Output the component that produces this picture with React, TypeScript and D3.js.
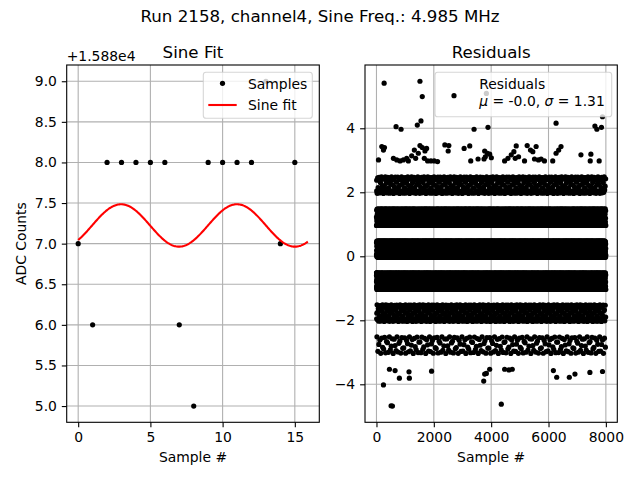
import { useRef, useEffect } from 'react';
import * as d3 from 'd3';

// ADC samples shown in the left panel (value + 1.588e4)
const sampleIdx = [0, 1, 2, 3, 4, 5, 6, 7, 8, 9, 10, 11, 12, 13, 14, 15];
const sampleAdc = [7, 6, 8, 8, 8, 8, 8, 6, 5, 8, 8, 8, 8, 9, 7, 8];

// sine fit
const sampleRateMHz = 40;
const sineFreqMHz = 4.985;
const fitOffset = 7.224;
const fitAmplitude = 0.261;
const fitPeakAt = 2.97;
const fitEnd = 15.9;

// residuals: 8000 samples, dense bands given as counts per ADC level
const nResiduals = 8000;
const bandBaseAdc = 7;
const bandLevels = [-3, -2, -1, 0, 1, 2];
const bandCounts = [240, 550, 2350, 2600, 1666, 480];

// sparse residuals read point by point
const sparseSample = [
  71, 186, 279, 244, 591, 707, 823, 939, 1054, 1112, 1228, 1321, 1367, 1460, 1517, 1598, 1691, 1749,
  1668, 1784, 1899, 2015, 2131, 2385, 2524, 2501, 3057, 3253, 3288, 3543, 3774, 3867, 3948, 3797,
  4006, 3751, 4469, 4585, 4700, 4793, 4874, 4839, 4955, 5163, 5256, 5372, 5453, 5568, 5511, 5649,
  5742, 5858, 6147, 6263, 6355, 6436, 7131, 7478, 7455, 7767,
  267, 1517, 1597, 3833, 7882, 684, 858, 1424, 1552, 3403, 3889, 6264, 7618, 7687, 7847,
  452, 649, 244, 510, 557, 800, 1135, 1147, 1922, 3740, 3774, 3832, 3948, 4353, 4469, 4619, 4735,
  6170, 6286, 6726, 6922, 7443, 7883,
];
const sparseResid = [
  3.01, 3.43, 3.4, 3.32, 3.06, 3.01, 2.98, 3.01, 3.06, 2.98, 3.14, 3.32, 3.06, 3.22, 3.46, 3.4, 3.29, 3.37,
  3.06, 2.98, 2.98, 2.98, 2.96, 3.48, 3.46, 3.29, 3.37, 3.45, 2.98, 3.04, 3.29, 3.22, 3.19, 3.11,
  3.08, 3.04, 2.98, 3.06, 3.17, 3.27, 3.45, 3.06, 3.11, 2.98, 3.46, 3.32, 3.27, 3.43, 3.04, 3.01,
  3.04, 2.98, 2.98, 3.22, 3.32, 3.43, 3.17, 3.19, 2.98, 2.98,
  5.41, 5.47, 4.99, 5.09, 4.36, 4.05, 3.97, 4.1, 4.23, 3.97, 4.03, 4.16, 4.07, 3.97, 4.03,
  -3.53, -3.57, -4.02, -4.67, -4.68, -3.81, -3.61, -3.81, -3.59, -3.9, -3.68, -3.66, -3.53, -4.62, -3.53, -3.55, -3.53,
  -3.57, -3.78, -3.78, -3.68, -3.63, -3.6,
];

const leftTicksX = [0, 5, 10, 15];
const leftTicksY = [5, 5.5, 6, 6.5, 7, 7.5, 8, 8.5, 9];
const rightTicksX = [0, 2000, 4000, 6000, 8000];
const rightTicksY = [-4, -2, 0, 2, 4];

const fs = 13.9;
const tick = 4.9;

function fit(x: number) {
  return fitOffset + fitAmplitude * Math.cos((2 * Math.PI * (x - fitPeakAt) * sineFreqMHz) / sampleRateMHz);
}

function pad(ext: [number, number]): [number, number] {
  const m = (ext[1] - ext[0]) * 0.05;
  return [ext[0] - m, ext[1] + m];
}

type Box = { left: number; right: number; top: number; bottom: number };

function grid(svg: any, box: Box, x: any, y: any, xt: number[], yt: number[]) {
  const g = svg.append('g').attr('stroke', '#b0b0b0').attr('stroke-width', 1.1);
  xt.forEach((d) => {
    g.append('line').attr('x1', x(d)).attr('x2', x(d)).attr('y1', box.top).attr('y2', box.bottom);
  });
  yt.forEach((d) => {
    g.append('line').attr('x1', box.left).attr('x2', box.right).attr('y1', y(d)).attr('y2', y(d));
  });
}

function axes(svg: any, box: Box, x: any, y: any, xt: number[], yt: number[], xf: any, yf: any) {
  const ax = svg.append('g')
    .attr('transform', `translate(0,${box.bottom})`)
    .call(d3.axisBottom(x).tickValues(xt).tickFormat(xf).tickSize(tick).tickPadding(tick).tickSizeOuter(0));
  const ay = svg.append('g')
    .attr('transform', `translate(${box.left},0)`)
    .call(d3.axisLeft(y).tickValues(yt).tickFormat(yf).tickSize(tick).tickPadding(tick).tickSizeOuter(0));
  [ax, ay].forEach((a) => {
    a.select('.domain').remove();
    a.attr('font-family', 'DejaVu Sans').attr('font-size', fs);
    a.selectAll('line').attr('stroke-width', 1.1);
  });
  svg.append('rect')
    .attr('x', box.left).attr('y', box.top)
    .attr('width', box.right - box.left).attr('height', box.bottom - box.top)
    .attr('fill', 'none').attr('stroke', 'black').attr('stroke-width', 1.1);
}

export default function App() {
  const ref = useRef<SVGSVGElement>(null);

  useEffect(() => {
    if (!ref.current) return;
    const svg = d3.select(ref.current);
    svg.selectAll('*').remove();

    svg.append('rect').attr('width', 640).attr('height', 480).attr('fill', 'white');

    // ---------- left: sine fit ----------
    const lb: Box = { left: 66.7, right: 319.3, top: 65, bottom: 422.3 };
    const fitX = d3.range(0, fitEnd + 1e-9, 0.05);
    const xl = d3.scaleLinear().domain(pad([0, fitEnd])).range([lb.left, lb.right]);
    const yl = d3.scaleLinear().domain(pad(d3.extent(sampleAdc) as [number, number])).range([lb.bottom, lb.top]);

    grid(svg, lb, xl, yl, leftTicksX, leftTicksY);

    svg.append('g').selectAll('circle')
      .data(sampleIdx)
      .join('circle')
      .attr('cx', (d) => xl(d))
      .attr('cy', (d, i) => yl(sampleAdc[i]))
      .attr('r', 2.6)
      .attr('fill', 'black');

    svg.append('path')
      .datum(fitX)
      .attr('d', d3.line<number>().x((d) => xl(d)).y((d) => yl(fit(d))))
      .attr('fill', 'none')
      .attr('stroke', 'red')
      .attr('stroke-width', 2.1);

    axes(svg, lb, xl, yl, leftTicksX, leftTicksY, d3.format('d'), d3.format('.1f'));

    // legend
    const lg = svg.append('g');
    lg.append('rect').attr('x', 203.3).attr('y', 72.3).attr('width', 109).attr('height', 46).attr('rx', 2.8)
      .attr('fill', 'white').attr('fill-opacity', 0.8).attr('stroke', '#cccccc').attr('stroke-opacity', 0.8).attr('stroke-width', 1.1);
    lg.append('circle').attr('cx', 222.5).attr('cy', 83.3).attr('r', 2.6).attr('fill', 'black');
    lg.append('line').attr('x1', 208.3).attr('x2', 236.7).attr('y1', 105).attr('y2', 105).attr('stroke', 'red').attr('stroke-width', 2.1);
    lg.append('text').attr('x', 248).attr('y', 88.5).attr('font-size', fs).text('Samples');
    lg.append('text').attr('x', 248).attr('y', 109.8).attr('font-size', fs).text('Sine fit');

    svg.append('text').attr('x', (lb.left + lb.right) / 2).attr('y', 58.2).attr('text-anchor', 'middle').attr('font-size', 16.67).text('Sine Fit');
    svg.append('text').attr('x', lb.left).attr('y', 60.5).attr('font-size', fs).text('+1.588e4');
    svg.append('text').attr('x', (lb.left + lb.right) / 2).attr('y', 462).attr('text-anchor', 'middle').attr('font-size', fs).text('Sample #');
    svg.append('text').attr('transform', `translate(25.8,${(lb.top + lb.bottom) / 2}) rotate(-90)`)
      .attr('text-anchor', 'middle').attr('font-size', fs).text('ADC Counts');

    // ---------- right: residuals ----------
    // residual = fit - ADC; within a level band the offset follows the fit's phase
    const rb: Box = { left: 365, right: 617.3, top: 65, bottom: 422.3 };
    const golden = 0.6180339887;
    const pts: [number, number][] = [];
    sampleIdx.forEach((s, i) => pts.push([s, fit(s) - sampleAdc[i]]));
    bandLevels.forEach((level, b) => {
      const n = bandCounts[b];
      for (let j = 0; j < n; j++) {
        const s = ((j + 0.5) * nResiduals) / n;
        const phase = (j * golden + b * 0.37) % 1;
        const r = level + fitOffset - bandBaseAdc + fitAmplitude * Math.cos(2 * Math.PI * phase);
        pts.push([s, r]);
      }
    });
    sparseSample.forEach((s, i) => pts.push([s, sparseResid[i]]));

    const xr = d3.scaleLinear().domain(pad([0, nResiduals - 1])).range([rb.left, rb.right]);
    const yr = d3.scaleLinear().domain(pad(d3.extent(pts, (p) => p[1]) as [number, number])).range([rb.bottom, rb.top]);

    grid(svg, rb, xr, yr, rightTicksX, rightTicksY);

    svg.append('g').selectAll('circle')
      .data(pts)
      .join('circle')
      .attr('cx', (d) => xr(d[0]))
      .attr('cy', (d) => yr(d[1]))
      .attr('r', 2.6)
      .attr('fill', 'black');

    axes(svg, rb, xr, yr, rightTicksX, rightTicksY, d3.format('d'), d3.format('d'));

    const rg = svg.append('g');
    rg.append('rect').attr('x', 435).attr('y', 72.3).attr('width', 176.7).attr('height', 44.4).attr('rx', 2.8)
      .attr('fill', 'white').attr('fill-opacity', 0.8).attr('stroke', '#cccccc').attr('stroke-opacity', 0.8).attr('stroke-width', 1.1);
    rg.append('circle').attr('cx', 454).attr('cy', 95.7).attr('r', 2.6).attr('fill', 'black');
    rg.append('text').attr('x', 479.3).attr('y', 89.3).attr('font-size', fs).text('Residuals');
    const t2 = rg.append('text').attr('x', 479.3).attr('y', 105.7).attr('font-size', fs);
    t2.append('tspan').attr('font-style', 'italic').text('μ');
    t2.append('tspan').text(' = -0.0, ');
    t2.append('tspan').attr('font-style', 'italic').text('σ');
    t2.append('tspan').text(' = 1.31');

    svg.append('text').attr('x', (rb.left + rb.right) / 2).attr('y', 58.2).attr('text-anchor', 'middle').attr('font-size', 16.67).text('Residuals');
    svg.append('text').attr('x', (rb.left + rb.right) / 2).attr('y', 462).attr('text-anchor', 'middle').attr('font-size', fs).text('Sample #');

    svg.append('text').attr('x', 320).attr('y', 22.4).attr('text-anchor', 'middle').attr('font-size', 16.67)
      .text('Run 2158, channel4, Sine Freq.: 4.985 MHz');
  }, []);

  return (
    <svg
      ref={ref}
      width={640}
      height={480}
      style={{ position: 'absolute', left: 0, top: 0, fontFamily: 'DejaVu Sans' }}
    />
  );
}
